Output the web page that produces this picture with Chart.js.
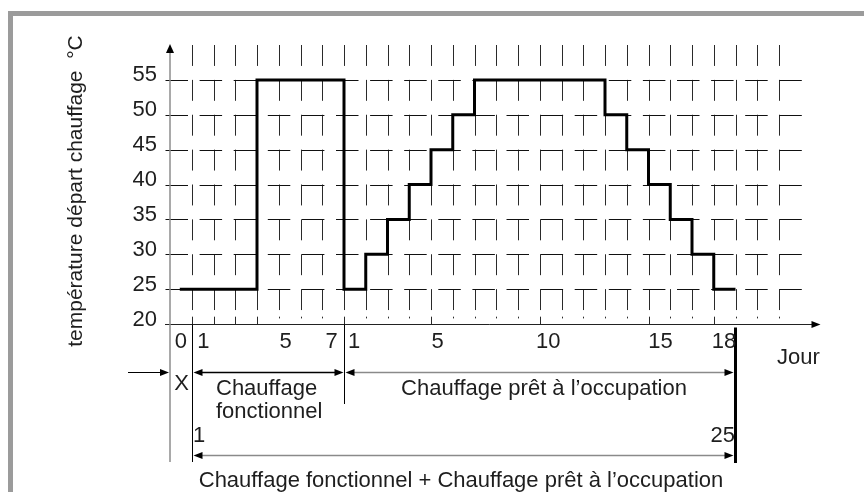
<!DOCTYPE html>
<html>
<head>
<meta charset="utf-8">
<script src="https://cdn.jsdelivr.net/npm/chart.js@4.4.1/dist/chart.umd.min.js"></script>
<style>
  html, body { margin: 0; padding: 0; background: #fff; }
</style>
</head>
<body>
<canvas id="heatChart" width="864" height="492"></canvas>
<script>
// supply temperature profile: each point starts a flat segment (x = grid day from the y axis)
const stepDays  = [0.45, 4, 8, 9, 10, 11, 12, 13, 14, 20, 21, 22, 23, 24, 25, 26];
const stepTemps = [25, 55, 25, 30, 35, 40, 45, 50, 55, 50, 45, 40, 35, 30, 25, 25];

const tempTicks = [55, 50, 45, 40, 35, 30, 25, 20];
const gridDays  = [1, 2, 3, 4, 5, 6, 7, 8, 9, 10, 11, 12, 13, 14, 15, 16, 17, 18, 19, 20, 21, 22, 23, 24, 25, 26, 27, 28];
const longTickDays = [1, 2, 3, 4, 8, 12, 17, 22, 25];

// day numbers under the axis: X phase, functional heating 1-7, ready-for-occupancy 1-18
const dayLabels   = ['0', '1', '5', '7', '1', '5', '10', '15', '18'];
const dayLabelPos = [0.5, 1.53, 5.32, 7.43, 8.46, 12.3, 17.39, 22.55, 25.47];

// phase boundaries on the day axis
const xEnd = 1, functionalEnd = 8, readyEnd = 26;

const FONT = '"Liberation Sans", Arial, sans-serif';
const TEXT = '#1e1e1e';

function arrowHead(c, x, y, dir) {
    const len = 9, half = 3.5;
    c.beginPath();
    if (dir === 'r') { c.moveTo(x, y); c.lineTo(x - len, y - half); c.lineTo(x - len, y + half); }
    if (dir === 'l') { c.moveTo(x, y); c.lineTo(x + len, y - half); c.lineTo(x + len, y + half); }
    if (dir === 'u') { c.moveTo(x, y); c.lineTo(x - 4, y + len); c.lineTo(x + 4, y + len); }
    c.closePath();
    c.fill();
}

function line(c, x1, y1, x2, y2) {
    c.beginPath();
    c.moveTo(x1, y1);
    c.lineTo(x2, y2);
    c.stroke();
}

function dimArrow(c, x1, x2, y, shaft) {
    c.strokeStyle = shaft;
    c.lineWidth = 1.5;
    line(c, x1 + 4, y, x2 - 4, y);
    c.fillStyle = '#000';
    arrowHead(c, x1, y, 'l');
    arrowHead(c, x2, y, 'r');
}

const drawing = {
    id: 'drawing',
    beforeDraw(chart) {
        const c = chart.ctx;
        c.save();
        c.fillStyle = '#fff';
        c.fillRect(0, 0, chart.width, chart.height);
        // page frame
        c.fillStyle = '#9b9b9b';
        c.fillRect(8, 11, chart.width - 8, 5);
        c.fillRect(8, 11, 5, chart.height - 11);
        c.restore();
    },
    beforeDatasetsDraw(chart) {
        const { ctx: c, scales: { x, y }, chartArea: area } = chart;
        const y20 = y.getPixelForValue(20);
        c.save();

        // vertical dashed grid: one dash below each 5 degree level
        c.strokeStyle = '#2a2a2a';
        c.lineWidth = 1;
        const levels = [y.max, ...tempTicks.filter(t => t > y.min)];
        gridDays.forEach(d => {
            const px = Math.round(x.getPixelForValue(d)) + 0.5;
            levels.forEach(v => line(c, px, y.getPixelForValue(v), px, y.getPixelForValue(v - 3)));
            if (longTickDays.includes(d)) {
                line(c, px, y.getPixelForValue(21.05), px, y20);
            } else {
                line(c, px, y.getPixelForValue(21.05), px, y.getPixelForValue(20.8));
            }
        });

        // horizontal dashed grid
        c.strokeStyle = '#111';
        c.setLineDash([22.5, 11.6]);
        tempTicks.filter(t => t > y.min).forEach(t => {
            const py = Math.round(y.getPixelForValue(t)) + 0.5;
            line(c, 165.5, py, 803, py);
        });
        c.setLineDash([]);

        // x axis with arrow
        const ay = Math.round(y20) + 0.5;
        c.strokeStyle = '#222';
        line(c, 165, ay, area.right - 8, ay);
        c.fillStyle = '#000';
        arrowHead(c, area.right - 2, ay, 'r');

        // y axis (grey), running down through the phase annotations
        const x0 = x.getPixelForValue(0);
        c.strokeStyle = '#8c8c8c';
        c.lineWidth = 1.5;
        line(c, x0, area.top + 6, x0, 462);
        c.fillStyle = '#000';
        arrowHead(c, x0, area.top - 1, 'u');

        // phase separators
        const xa = Math.round(x.getPixelForValue(xEnd)) + 0.5;
        const xf = Math.round(x.getPixelForValue(functionalEnd)) + 0.5;
        const xr = x.getPixelForValue(readyEnd);
        c.strokeStyle = '#000';
        c.lineWidth = 1;
        line(c, xa, ay, xa, 462);
        line(c, xf, ay, xf, 404);
        c.lineWidth = 3;
        line(c, xr, ay + 3, xr, 463);

        // dimension arrows
        const rowA = 372.5, rowB = 455.5;
        c.strokeStyle = '#000';
        c.lineWidth = 1;
        line(c, 128, rowA, x0 - 6, rowA);
        c.fillStyle = '#000';
        arrowHead(c, x0 - 1, rowA, 'r');
        dimArrow(c, xa + 1, xf - 1, rowA, '#000');
        dimArrow(c, xf + 1, xr - 2, rowA, '#8a8a8a');
        dimArrow(c, xa + 1, xr - 2, rowB, '#8a8a8a');

        // tick labels
        c.fillStyle = TEXT;
        c.font = '22px ' + FONT;
        c.textAlign = 'right';
        c.textBaseline = 'middle';
        tempTicks.forEach(t => c.fillText(String(t), 157, y.getPixelForValue(t) - 4.5));

        c.textAlign = 'center';
        c.textBaseline = 'alphabetic';
        dayLabels.forEach((lbl, i) => c.fillText(lbl, x.getPixelForValue(dayLabelPos[i]), 348));

        c.textAlign = 'left';
        c.fillText('Jour', 777, 364);
        c.textAlign = 'center';
        c.fillText('X', 181.5, 390);
        c.textAlign = 'left';
        c.fillText('Chauffage', 216, 395);
        c.fillText('fonctionnel', 216, 418);
        c.textAlign = 'center';
        c.fillText('Chauffage prêt à l’occupation', 544, 395);
        c.textAlign = 'left';
        c.fillText('1', 193, 442);
        c.textAlign = 'right';
        c.fillText('25', 735, 442);
        c.textAlign = 'center';
        c.fillText('Chauffage fonctionnel + Chauffage prêt à l’occupation', 461, 487);

        // y axis title
        c.save();
        c.translate(82, 191);
        c.rotate(-Math.PI / 2);
        c.font = '21px ' + FONT;
        c.textAlign = 'center';
        c.fillText('température départ chauffage  °C', 0, 0);
        c.restore();

        c.restore();
    }
};

new Chart(document.getElementById('heatChart'), {
    type: 'line',
    data: {
        datasets: [{
            data: stepDays.map((d, i) => ({ x: d, y: stepTemps[i] })),
            stepped: 'before',
            borderColor: '#000',
            borderWidth: 3,
            borderJoinStyle: 'miter',
            pointRadius: 0,
            fill: false
        }]
    },
    options: {
        responsive: false,
        animation: false,
        devicePixelRatio: 1,
        layout: { padding: { left: 170, right: 41.5, top: 45, bottom: 168 } },
        plugins: { legend: { display: false }, tooltip: { enabled: false } },
        scales: {
            x: { type: 'linear', min: 0, max: 30, display: false },
            y: { min: 20, max: 60, display: false }
        }
    },
    plugins: [drawing]
});
</script>
</body>
</html>
